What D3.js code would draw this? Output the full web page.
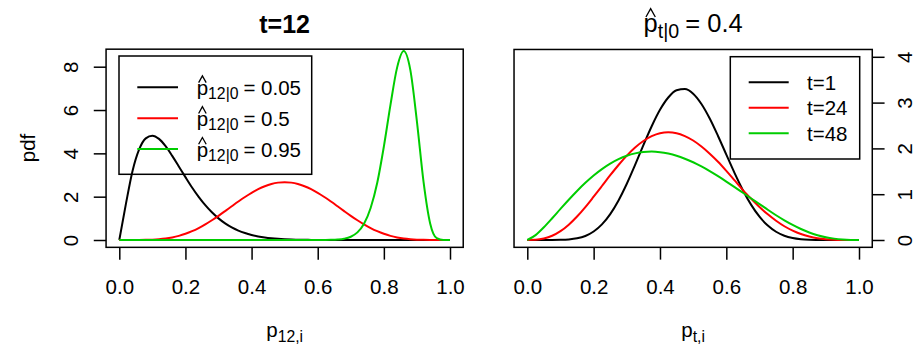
<!DOCTYPE html>
<html><head><meta charset="utf-8">
<script src="https://cdn.jsdelivr.net/npm/d3@7"></script>
<style>
body{margin:0;background:#fff}
svg text{font-family:"Liberation Sans",Arial,Helvetica,sans-serif;fill:#000}
</style>
</head><body>
<svg id="chart" width="917" height="349"></svg>
<script>
// ---------- data ----------
const leftP = [0,0.02,0.04,0.06,0.08,0.1,0.12,0.14,0.16,0.18,0.2,0.22,0.24,0.26,0.28,0.3,0.32,0.34,0.36,0.38,0.4,0.42,0.44,0.46,0.48,0.5,0.52,0.54,0.56,0.58,0.6,0.62,0.64,0.66,0.68,0.7,0.72,0.74,0.76,0.78,0.8,0.82,0.84,0.86,0.88,0.9,0.92,0.94,0.96,0.98,1];
const leftPdf005 = [0,1.665,3.186,4.181,4.692,4.816,4.667,4.331,3.885,3.395,2.903,2.426,1.994,1.609,1.278,0.999,0.769,0.583,0.435,0.320,0.231,0.165,0.115,0.079,0.053,0.035,0.023,0.014,0.009,0.005,0.003,0.002,0.001,0,0,0,0,0,0,0,0,0,0,0,0,0,0,0,0,0,0];
const leftPdf05 = [0,0,0.0002,0.0016,0.0059,0.016,0.036,0.069,0.120,0.192,0.287,0.407,0.552,0.721,0.911,1.117,1.334,1.556,1.775,1.985,2.177,2.345,2.483,2.586,2.649,2.67,2.649,2.586,2.483,2.345,2.177,1.985,1.775,1.556,1.334,1.117,0.911,0.721,0.552,0.407,0.287,0.192,0.120,0.069,0.036,0.016,0.0059,0.0016,0.0002,0,0];
const leftPdf095 = [0,0,0,0,0,0,0,0,0,0,0,0,0,0,0,0,0,0,0,0,0,0,0,0,0,0,0,0,0,0,0.001,0.003,0.008,0.023,0.061,0.151,0.351,0.750,1.478,2.643,4.314,6.237,7.957,8.72,7.851,5.468,2.683,0.763,0.082,0.001,0];
const leftLegendValues = ["0.05","0.5","0.95"];

const rightP = [0,0.025,0.05,0.075,0.1,0.125,0.15,0.175,0.2,0.225,0.25,0.275,0.3,0.325,0.35,0.375,0.4,0.425,0.45,0.475,0.5,0.525,0.55,0.575,0.6,0.625,0.65,0.675,0.7,0.725,0.75,0.775,0.8,0.825,0.85,0.875,0.9,0.925,0.95,0.975,1];
const rightPdfT1 = [0,0,0,0.0004,0.003,0.012,0.036,0.088,0.185,0.340,0.565,0.864,1.228,1.640,2.071,2.484,2.843,3.111,3.269,3.295,3.195,2.970,2.652,2.271,1.864,1.460,1.088,0.767,0.509,0.315,0.180,0.094,0.044,0.018,0.006,0.002,0,0,0,0,0];
const rightPdfT24 = [0,0.004,0.031,0.092,0.193,0.335,0.513,0.719,0.946,1.179,1.414,1.638,1.842,2.020,2.161,2.266,2.331,2.350,2.331,2.268,2.172,2.041,1.885,1.709,1.510,1.300,1.090,0.900,0.720,0.560,0.420,0.300,0.205,0.130,0.077,0.040,0.018,0.006,0.001,0,0];
const rightPdfT48 = [0,0.107,0.279,0.474,0.678,0.879,1.070,1.248,1.408,1.548,1.667,1.764,1.839,1.891,1.921,1.930,1.918,1.887,1.840,1.775,1.697,1.605,1.503,1.393,1.276,1.155,1.031,0.907,0.785,0.660,0.540,0.430,0.330,0.240,0.165,0.105,0.060,0.030,0.011,0.002,0];
const rightLegendLabels = ["t=1","t=24","t=48"];

const xTicks = [0,0.2,0.4,0.6,0.8,1.0];
const xTickLabels = ["0.0","0.2","0.4","0.6","0.8","1.0"];
const leftYTicks = [0,2,4,6,8];
const rightYTicks = [0,1,2,3,4];

// ---------- styling ----------
const FS = 20.5;
const COLORS = ["#000000","#FF0000","#00CD00"];
const svg = d3.select("#chart");

function mathText(g, x, y, size, anchor, base, sub, rest, hat) {
  const shift = size*0.22;
  const t = g.append("text").attr("x", x).attr("y", y)
    .attr("font-size", size).attr("text-anchor", anchor);
  t.append("tspan").text(base);
  t.append("tspan").attr("font-size", size*0.77).attr("dy", shift).text(sub);
  if (rest) t.append("tspan").attr("dy", -shift).attr("dx", size*0.24).text(rest);
  if (hat) {
    const e = t.node().getExtentOfChar(0);
    const cx = e.x + e.width/2, w = e.width*0.66;
    const yb = y - size*0.6, yt = y - size*0.93;
    g.append("path")
      .attr("d", `M${cx-w/2},${yb}L${cx},${yt}L${cx+w/2},${yb}`)
      .attr("fill","none").attr("stroke","#000").attr("stroke-width",1.3);
  }
  return t;
}

function panel(cfg) {
  const g = svg.append("g");
  const xs = d3.scaleLinear().domain([0,1]).range(cfg.xr);
  const ys = d3.scaleLinear().domain([0,cfg.yTickMax]).range(cfg.yr);
  const bx0 = xs(-0.04), bx1 = xs(1.04);
  const by0 = ys(-0.04*cfg.yMax), by1 = ys(1.04*cfg.yMax);

  // curves
  const line = d3.line().curve(d3.curveMonotoneX);
  cfg.series.forEach((s, k) => {
    const pts = s.map((v,i) => [xs(cfg.P[i]), ys(v)]);
    g.append("path").attr("d", line(pts)).attr("fill","none")
      .attr("stroke", COLORS[k]).attr("stroke-width", 2).attr("stroke-linejoin","round");
  });

  // box
  g.append("rect").attr("x", bx0).attr("y", by1).attr("width", bx1-bx0).attr("height", by0-by1)
    .attr("fill","none").attr("stroke","#000").attr("stroke-width",1.5);

  // x axis
  const xa = g.append("g").attr("transform", `translate(0,${by0})`)
    .call(d3.axisBottom(xs).tickValues(xTicks).tickSize(12.3).tickFormat((d,i)=>xTickLabels[i]));
  xa.select(".domain").remove();
  xa.selectAll(".tick line").attr("stroke","#000").attr("stroke-width",1.5);
  xa.selectAll(".tick text").attr("y", 47).attr("dy", 0).attr("font-size", FS)
    .attr("font-family", null).attr("fill","#000");

  // y axis
  const yAxisGen = cfg.yRight ? d3.axisRight(ys) : d3.axisLeft(ys);
  const ya = g.append("g").attr("transform", `translate(${cfg.yRight ? bx1 : bx0},0)`)
    .call(yAxisGen.tickValues(cfg.yTicks).tickSize(12.3).tickFormat(d3.format("d")));
  ya.select(".domain").remove();
  ya.selectAll(".tick line").attr("stroke","#000").attr("stroke-width",1.5);
  ya.selectAll(".tick text").attr("transform","rotate(-90)").attr("x",0)
    .attr("y", cfg.yRight ? 40 : -27.7).attr("dy",0).attr("text-anchor","middle")
    .attr("font-size", FS).attr("font-family", null).attr("fill","#000");

  return {g, xs, ys, bx0, bx1, by0, by1};
}

// ---------- left panel ----------
const Lp = panel({xr:[119.3,450], yr:[240,66.7], yTickMax:8, yMax:8.47, yTicks:leftYTicks,
  yRight:false, P:leftP, series:[leftPdf005, leftPdf05, leftPdf095]});

Lp.g.append("text").attr("x", (Lp.bx0+Lp.bx1)/2).attr("y", 33.3).attr("text-anchor","middle")
  .attr("font-size", 25).attr("font-weight","bold").text("t=12");
Lp.g.append("text").attr("transform","translate(34.5,148) rotate(-90)").attr("text-anchor","middle")
  .attr("font-size", FS).text("pdf");
mathText(Lp.g, (Lp.bx0+Lp.bx1)/2, 337.3, FS, "middle", "p", "12,i", null, false);

// left legend
const legL = Lp.g.append("g");
legL.append("rect").attr("x",119).attr("y",56).attr("width",192.7).attr("height",118.3)
  .attr("fill","none").attr("stroke","#000").attr("stroke-width",1.5);
leftLegendValues.forEach((v,k) => {
  const ly = 87.3 + k*30.85;
  legL.append("line").attr("x1",137.3).attr("x2",178).attr("y1",ly).attr("y2",ly)
    .attr("stroke",COLORS[k]).attr("stroke-width",2);
  mathText(legL, 196.7, ly+7.6, FS, "start", "p", "12|0", "= " + v, true);
});

// ---------- right panel ----------
const Rp = panel({xr:[527.3,859], yr:[240,56.8], yTickMax:4, yMax:4, yTicks:rightYTicks,
  yRight:true, P:rightP, series:[rightPdfT1, rightPdfT24, rightPdfT48]});

mathText(Rp.g, (Rp.bx0+Rp.bx1)/2, 32.3, 25.5, "middle", "p", "t|0", "= 0.4", true);
mathText(Rp.g, (Rp.bx0+Rp.bx1)/2, 337.3, FS, "middle", "p", "t,i", null, false);

const legR = Rp.g.append("g");
legR.append("rect").attr("x",730.3).attr("y",56.7).attr("width",129.4).attr("height",102.3)
  .attr("fill","none").attr("stroke","#000").attr("stroke-width",1.5);
rightLegendLabels.forEach((lab,k) => {
  const ly = 82.3 + k*25.5;
  legR.append("line").attr("x1",748.7).attr("x2",788.7).attr("y1",ly).attr("y2",ly)
    .attr("stroke",COLORS[k]).attr("stroke-width",2);
  legR.append("text").attr("x",807).attr("y",ly+7.5).attr("font-size",FS).text(lab);
});
</script>
</body></html>
